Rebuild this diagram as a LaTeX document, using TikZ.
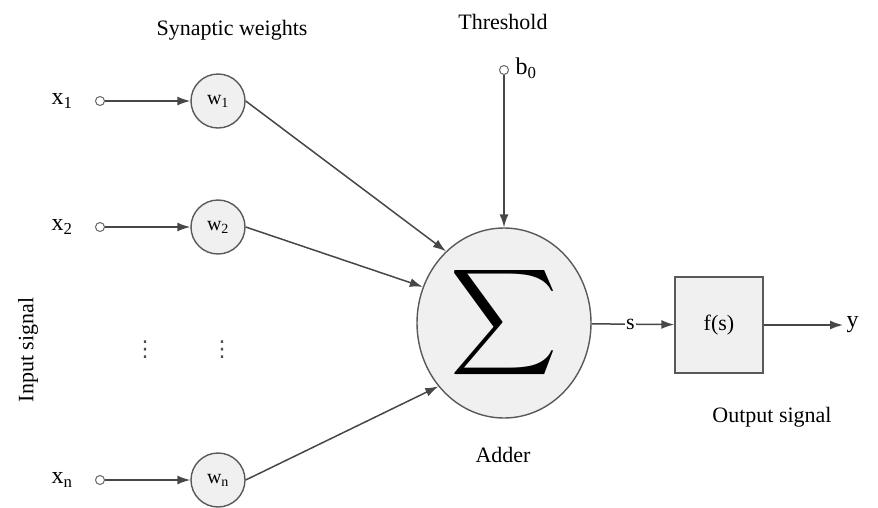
\documentclass[tikz,border=0pt]{standalone}
\usepackage{fontspec}
\setmainfont{Liberation Serif}
\newfontfamily\symfont{DejaVu Sans}
\usetikzlibrary{arrows.meta,shapes.geometric}

\tikzset{
    every node/.style={font=\fontsize{22}{26}\selectfont},
    line/.style={draw=black!72, line width=1.5pt},
    port/.style={circle, draw=black!60, line width=1pt, fill=white, inner sep=0pt, minimum size=9pt},
    weight/.style={circle, draw=black!65, line width=1.4pt, fill=black!6, inner sep=0pt, minimum size=54pt, font=\fontsize{20}{24}\selectfont},
    adder/.style={ellipse, draw=black!65, line width=1.4pt, fill=black!6, inner sep=0pt, minimum width=174pt, minimum height=190pt},
    func/.style={rectangle, draw=black!65, line width=1.4pt, fill=black!6, minimum width=88pt, minimum height=96pt},
    dotsv/.style={text=black!70, font=\symfont\fontsize{22}{26}\selectfont},
}

\begin{document}
\begin{tikzpicture}[x=1pt, y=-1pt, >={Latex[length=13pt,width=9pt]}]
    \useasboundingbox (0,0) rectangle (878,507);

    % inputs and weights
    \foreach \i/\yy in {1/101, 2/227, n/480} {
        \node[font=\fontsize{24}{28}\selectfont] (x\i) at (62,\yy) {x\textsubscript{\i}};
        \node[port] (p\i) at (100,\yy) {};
        \node[weight] (w\i) at (218,\yy) {w\textsubscript{\i}};
        \draw[line, ->] (p\i) -- (w\i);
    }
    \node[dotsv] (dx) at (145,350) {⋮};
    \node[dotsv] (dw) at (222,350) {⋮};

    % adder and threshold
    \node[adder] (sum) at (504,323) {\resizebox{!}{98pt}{$\displaystyle\sum$}};
    \node[port] (pb) at (504,70) {};
    \node[anchor=west, font=\fontsize{24}{28}\selectfont] (b0) at (512,68) {b\textsubscript{0}};
    \draw[line, ->] (pb) -- (sum);
    \draw[line, ->] (w1.east) -- (sum.129);
    \draw[line, ->] (w2.east) -- (sum.156);
    \draw[line, ->] (wn.east) -- (sum.224);

    % activation and output
    \node[func] (f) at (719,325) {f(s)};
    \node[anchor=west, font=\fontsize{24}{28}\selectfont] (y) at (843,325) {y};
    \draw[line, ->] (sum) -- node[pos=0.47, fill=white, inner sep=1pt] (s) {s} (f);
    \draw[line, ->] (f.east) -- (y.west);

    % captions
    \node (lw) at (232,30) {Synaptic weights};
    \node (lt) at (503,22) {Threshold};
    \node (la) at (503,455) {Adder};
    \node (lo) at (772,417) {Output signal};
    \node[rotate=90] (li) at (28,350) {Input signal};
\end{tikzpicture}
\end{document}
